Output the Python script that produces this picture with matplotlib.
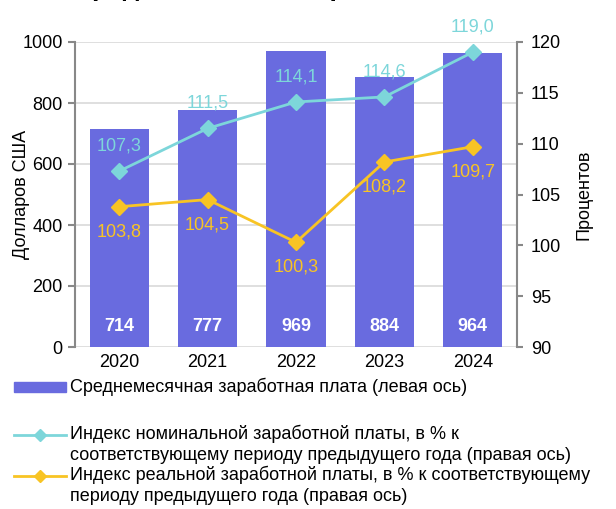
import matplotlib
matplotlib.use("Agg")
import matplotlib.pyplot as plt
from matplotlib.lines import Line2D
from matplotlib.patches import Rectangle

plt.rcParams['font.family'] = ['Liberation Sans', 'DejaVu Sans']

years = ['2020', '2021', '2022', '2023', '2024']
salary = [714, 777, 969, 884, 964]
nominal_idx = [107.3, 111.5, 114.1, 114.6, 119.0]
real_idx = [103.8, 104.5, 100.3, 108.2, 109.7]

legend_labels = [
    "Среднемесячная заработная плата (левая ось)",
    "Индекс номинальной заработной платы, в % к\nсоответствующему периоду предыдущего года (правая ось)",
    "Индекс реальной заработной платы, в % к соответствующему\nпериоду предыдущего года (правая ось)",
]

bar_color = '#696BDF'
nom_color = '#7DD6DA'
real_color = '#F8C424'
spine_color = '#888888'
FS = 13


def fmt(v):
    return f"{v:.1f}".replace('.', ',')


W, H = 616, 509
fig = plt.figure(figsize=(W / 100, H / 100), dpi=100)
ax = fig.add_axes([75 / W, 1 - 347 / H, (517 - 75) / W, (347 - 42) / H])
ax2 = ax.twinx()

x = list(range(len(years)))
ax.bar(x, salary, width=0.67, color=bar_color, zorder=2)
ax.set_ylim(0, 1000)
ax.set_yticks(range(0, 1001, 200))
ax.set_xlim(-0.5, 4.5)
ax.set_xticks(x)
ax.set_xticklabels(years, fontsize=FS)
ax.grid(axis='y', color='#D9D9D9', linewidth=1.2, zorder=0)
ax.set_axisbelow(True)
ax.tick_params(axis='y', labelsize=FS, length=5, color=spine_color, width=1.5, pad=4)
ax.tick_params(axis='x', length=0, pad=5)
ax.set_ylabel("Долларов США", fontsize=FS, labelpad=-6)

for xi, v in zip(x, salary):
    ax.text(xi, 66, str(v), ha='center', va='center', color='white',
            fontsize=FS, fontweight='bold', zorder=3)

ax2.plot(x, nominal_idx, color=nom_color, marker='D', markersize=8, linewidth=2, zorder=4)
ax2.plot(x, real_idx, color=real_color, marker='D', markersize=8, linewidth=2, zorder=4)
ax2.set_ylim(90, 120)
ax2.set_yticks(range(90, 121, 5))
ax2.tick_params(axis='y', labelsize=FS, length=4, color=spine_color, width=1.5, pad=6)
ax2.set_ylabel("Процентов", fontsize=FS, labelpad=10)

for xi, v in zip(x, nominal_idx):
    ax2.annotate(fmt(v), (xi, v), xytext=(0, 12), textcoords='offset points',
                 ha='center', va='bottom', color=nom_color, fontsize=FS)
for xi, v in zip(x, real_idx):
    ax2.annotate(fmt(v), (xi, v), xytext=(0, -12), textcoords='offset points',
                 ha='center', va='top', color=real_color, fontsize=FS)

for a in (ax, ax2):
    a.spines['top'].set_visible(False)
    a.spines['bottom'].set_visible(False)
    a.spines['left'].set_color(spine_color)
    a.spines['right'].set_color(spine_color)
    a.spines['left'].set_linewidth(1.5)
    a.spines['right'].set_linewidth(1.5)
ax2.spines['left'].set_visible(False)
ax.spines['right'].set_visible(False)

# title, mostly cut off at the top edge as in the reference
fig.text(303 / W, 1.0 + 4 / H, "Среднемесячная заработная плата", ha='center', va='baseline',
         fontsize=19, fontweight='bold')


# legend drawn by hand
def fy(py):
    return 1 - py / H


fig.patches.append(Rectangle((14 / W, fy(392)), (66 - 14) / W, 10 / H,
                             transform=fig.transFigure, color=bar_color))
fig.text(70 / W, fy(387), legend_labels[0], fontsize=FS, va='center')
for py, col, lab in [(435, nom_color, legend_labels[1]), (476, real_color, legend_labels[2])]:
    fig.add_artist(Line2D([14 / W, 66 / W], [fy(py), fy(py)], color=col, linewidth=2,
                          transform=fig.transFigure))
    fig.add_artist(Line2D([40 / W], [fy(py)], color=col, marker='D', markersize=6,
                          transform=fig.transFigure))
    fig.text(70 / W, fy(py - 10), lab, fontsize=FS, va='top', linespacing=1.3)

fig.savefig("out.png", dpi=100)
